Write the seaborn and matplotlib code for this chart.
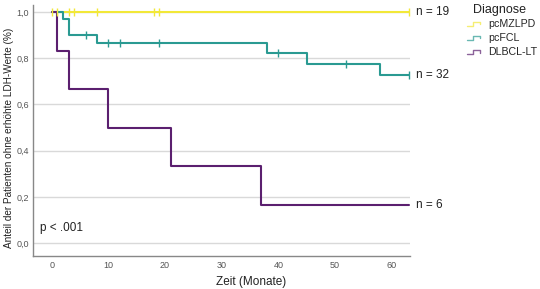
import numpy as np
import pandas as pd
import matplotlib
matplotlib.use("Agg")
import matplotlib.pyplot as plt
import seaborn as sns
from matplotlib.lines import Line2D
from matplotlib.legend_handler import HandlerBase

# ---- data ----
groups = ["pcMZLPD", "pcFCL", "DLBCL-LT"]
n_labels = ["n = 19", "n = 32", "n = 6"]

mzlpd_time = [0, 63]
mzlpd_surv = [1.0, 1.0]
mzlpd_cens_t = [0, 1, 3, 4, 8, 18, 19, 63]

fcl_time = [0, 2, 3, 8, 38, 45, 58, 63]
fcl_surv = [1.0, 0.967, 0.900, 0.864, 0.822, 0.776, 0.728, 0.728]
fcl_cens_t = [6, 10, 12, 19, 40, 52, 63]

dlbcl_time = [0, 1, 3, 10, 21, 37, 63]
dlbcl_surv = [1.0, 0.833, 0.667, 0.500, 0.333, 0.167, 0.167]
dlbcl_cens_t = []

colors = ["#f2e838", "#2a9a92", "#5b1f6f"]

yticks = [0.0, 0.2, 0.4, 0.6, 0.8, 1.0]
ytick_labels = ["0,0", "0,2", "0,4", "0,6", "0,8", "1,0"]
xticks = [0, 10, 20, 30, 40, 50, 60]

curves = [(mzlpd_time, mzlpd_surv, mzlpd_cens_t),
          (fcl_time, fcl_surv, fcl_cens_t),
          (dlbcl_time, dlbcl_surv, dlbcl_cens_t)]

sns.set_theme(style="white")
plt.rcParams["font.family"] = ["Liberation Sans", "DejaVu Sans"]

fig = plt.figure(figsize=(5.4, 2.89), dpi=100)
ax = fig.add_axes([0.061, 0.113, 0.698, 0.87])

for yv in yticks:
    ax.axhline(yv, color="#d9d9d9", lw=1.0, zorder=0)

for (t, s, ct), g, c in zip(curves, groups, colors):
    df = pd.DataFrame({"t": t, "s": s})
    sns.lineplot(data=df, x="t", y="s", drawstyle="steps-post", color=c,
                 lw=1.5, ax=ax, estimator=None, legend=False)
    if ct:
        tt = np.array(t); ss = np.array(s)
        cs = [ss[np.searchsorted(tt, x, side="right") - 1] for x in ct]
        cdf = pd.DataFrame({"t": ct, "s": cs})
        sns.scatterplot(data=cdf, x="t", y="s", marker="|", s=30, color=c,
                        linewidth=1.0, ax=ax, legend=False, zorder=3)

for (t, s, ct), lab in zip(curves, n_labels):
    ax.annotate(lab, xy=(t[-1], s[-1]), xytext=(5, 0), textcoords="offset points",
                va="center", ha="left", fontsize=8.5, color="#222222",
                annotation_clip=False)

ax.set_xlim(-3.3, 63.2)
ax.set_ylim(-0.056, 1.03)
ax.set_xticks(xticks)
ax.set_yticks(yticks)
ax.set_yticklabels(ytick_labels)
ax.tick_params(axis="both", labelsize=6.5, colors="#555555", length=0, pad=3)
ax.set_xlabel("Zeit (Monate)", fontsize=8.5, color="#222222")
ax.xaxis.set_label_coords(0.578, -0.08)
ax.set_ylabel("Anteil der Patienten ohne erhöhte LDH-Werte (%)", fontsize=7.2, color="#222222")
ax.yaxis.set_label_coords(-0.05, 0.47)
for sp in ["top", "right"]:
    ax.spines[sp].set_visible(False)
for sp in ["left", "bottom"]:
    ax.spines[sp].set_color("#888888")
    ax.spines[sp].set_linewidth(1.0)

ax.text(-2.0, 0.04, "p < .001", fontsize=8.5, color="#222222", va="bottom")


class StepHandler(HandlerBase):
    def create_artists(self, legend, orig_handle, xdescent, ydescent, width,
                       height, fontsize, trans):
        xs = [0, 0.45 * width, 0.45 * width, width, width]
        ys = [0.15 * height, 0.15 * height, 0.65 * height, 0.65 * height, 0.35 * height]
        ln = Line2D(xs, ys, color=orig_handle.get_color(), lw=1.0, alpha=0.7)
        ln.set_transform(trans)
        return [ln]


fig.text(473 / 540, 1 - 10 / 289, "Diagnose", fontsize=9, color="#222222",
         ha="left", va="center")
handles = [Line2D([], [], color=c) for c in colors]
leg = fig.legend(handles, groups, loc="upper left",
                 bbox_to_anchor=(467 / 540, 1 - 19 / 289), frameon=False, fontsize=7.7,
                 handler_map={Line2D: StepHandler()},
                 handlelength=1.25, handletextpad=0.75, labelspacing=0.38,
                 borderaxespad=0, borderpad=0)

fig.savefig("out.png", dpi=100)
